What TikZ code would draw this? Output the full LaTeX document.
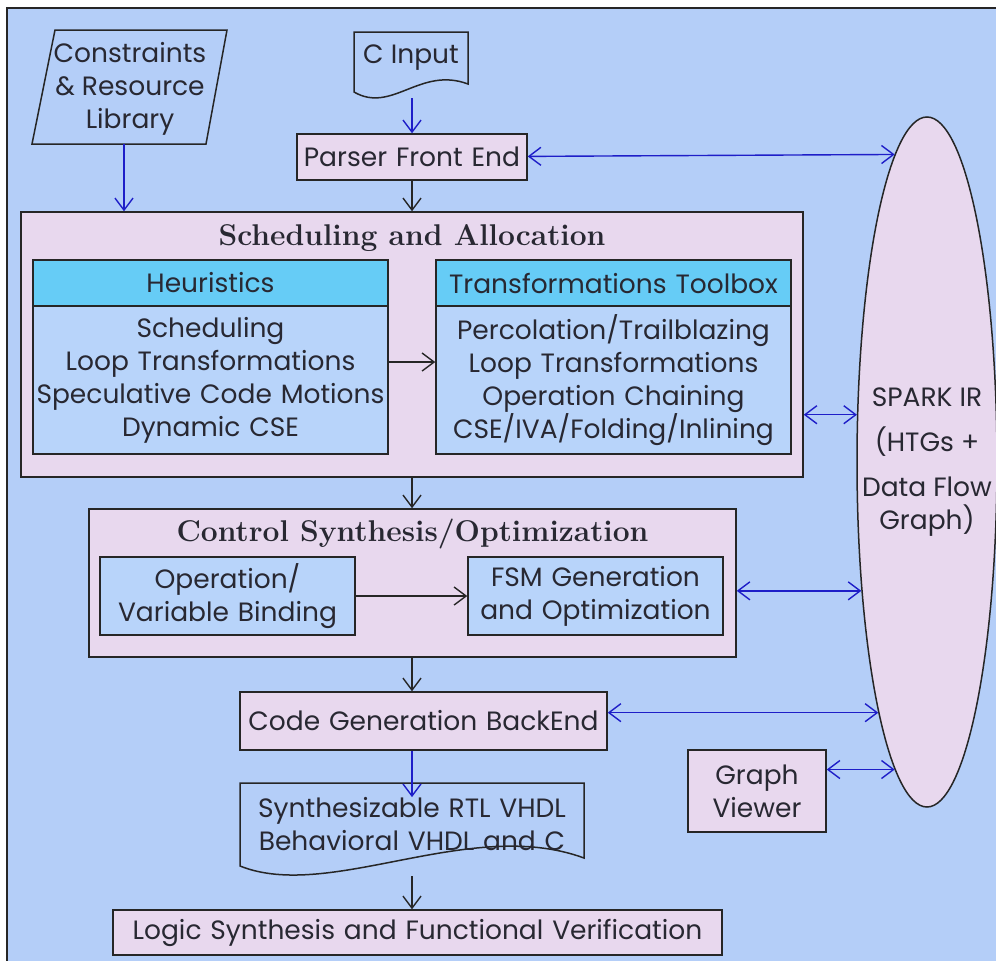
\documentclass[tikz,border=0pt]{standalone}
\usepackage{fontspec}
\newfontfamily\gothic{Poppins}
\usetikzlibrary{arrows.meta,shapes.geometric}
\definecolor{bgc}{RGB}{180,206,248}
\definecolor{pinkc}{RGB}{232,216,238}
\definecolor{headc}{RGB}{102,204,246}
\definecolor{bodyc}{RGB}{184,212,250}
\definecolor{bluec}{RGB}{30,30,200}
\definecolor{txtc}{RGB}{40,40,50}
\tikzset{
  sansfont/.style={font=\gothic\fontsize{26.5}{33}\selectfont, text=txtc},
  titlefont/.style={font=\rmfamily\bfseries\fontsize{30}{33}\selectfont, text=txtc},
  pinkbox/.style={draw=black!85, line width=1.5pt, fill=pinkc, sansfont, align=center, inner sep=0pt},
  headbox/.style={draw=black!85, line width=1.5pt, fill=headc, sansfont, align=center, inner sep=0pt},
  bodybox/.style={draw=black!85, line width=1.5pt, fill=bodyc, sansfont, align=center, inner sep=0pt},
  plaintext/.style={sansfont, align=center, inner sep=0pt},
  outline/.style={draw=black!85, line width=1.5pt},
  barrow/.style={draw=bluec, line width=1.4pt, -{Straight Barb[length=12pt,width=18pt]}},
  bbarrow/.style={draw=bluec, line width=1.4pt, {Straight Barb[length=12pt,width=18pt]}-{Straight Barb[length=12pt,width=18pt]}},
  karrow/.style={draw=black!85, line width=1.4pt, -{Straight Barb[length=12pt,width=18pt]}}
}
\begin{document}
\begin{tikzpicture}[x=1pt,y=-1pt]
\useasboundingbox (0,0) rectangle (996,961);
\fill[white] (0,0) rectangle (996,961);
\path[fill=bgc, outline] (7,8) rectangle (1010,975);

% Constraints parallelogram
\path[outline] (55,30) -- (227,30) -- (206,144) -- (32,144) -- cycle;
\node[plaintext] (cons) at (130,89) {Constraints\\\& Resource\\Library};
\coordinate (consbot) at (124,144);

% C Input document
\path[outline] (354,32) -- (468,32) -- (468,84) .. controls (420,66) and (392,114) .. (354,92) -- cycle;
\node[plaintext] (cin) at (411,58) {C Input};
\coordinate (cinbot) at (412,98);

% Parser
\node[pinkbox, text width=230pt, minimum height=46pt] (parser) at (412,157) {Parser Front End};

% SPARK IR ellipse
\node[ellipse, outline, fill=pinkc, minimum width=140pt, minimum height=690pt, inner sep=0pt,
      label={[plaintext]center:{SPARK IR\\[12pt](HTGs +\\[12pt]Data Flow\\Graph)}}] (spark) at (927,462) {};

% Scheduling and Allocation
\node[pinkbox, text width=782pt, minimum height=265pt] (sched) at (412,344.5) {};
\node[titlefont, inner sep=0pt] (schedt) at (412,238) {Scheduling and Allocation};
\node[headbox, text width=355pt, minimum height=46pt] (heurh) at (210.5,283) {Heuristics};
\node[bodybox, text width=355pt, minimum height=148pt] (heurb) at (210.5,380) {Scheduling\\Loop Transformations\\Speculative Code Motions\\Dynamic CSE};
\node[headbox, text width=355pt, minimum height=46pt] (toolh) at (613.5,283) {Transformations Toolbox};
\node[bodybox, text width=355pt, minimum height=148pt] (toolb) at (613.5,380) {Percolation/Trailblazing\\Loop Transformations\\Operation Chaining\\CSE/IVA/Folding/Inlining};

% Control Synthesis
\node[pinkbox, text width=647pt, minimum height=148pt] (control) at (412.5,583) {};
\node[titlefont, inner sep=0pt] (controlt) at (412.5,534) {Control Synthesis/Optimization};
\node[bodybox, text width=255pt, minimum height=78pt] (opvar) at (227.5,596) {Operation/\\Variable Binding};
\node[bodybox, text width=255pt, minimum height=78pt] (fsm) at (595.5,596) {FSM Generation\\and Optimization};

% Code generation
\node[pinkbox, text width=367pt, minimum height=58pt] (codegen) at (423.5,721) {Code Generation BackEnd};
\node[pinkbox, text width=138pt, minimum height=82pt] (graphv) at (757,791) {Graph\\Viewer};

% Synthesizable document
\path[outline] (240,783) -- (584,783) -- (584,858) .. controls (470,816) and (330,902) .. (240,866) -- cycle;
\node[plaintext, text width=344pt] (synth) at (412,824) {Synthesizable RTL VHDL\\Behavioral VHDL and C};
\coordinate (synthbot) at (412,876);

% Logic synthesis
\node[pinkbox, text width=609pt, minimum height=45pt] (logic) at (417.5,932.5) {Logic Synthesis and Functional Verification};

% Connectors
\draw[barrow] (consbot) -- (consbot |- sched.north);
\draw[barrow] (cinbot) -- (cinbot |- parser.north);
\draw[karrow] (parser.south) -- (parser.south |- sched.north);
\draw[bbarrow] (parser) -- (spark.96.17);
\draw[karrow] ([yshift=18pt]heurb.east) -- ([yshift=18pt]toolb.west);
\draw[bbarrow] (spark.146.5 -| sched.east) -- (spark.146.5);
\draw[karrow] (sched.south) -- (sched.south |- control.north);
\draw[karrow] (opvar) -- (fsm);
\draw[bbarrow] (spark.243.1 -| control.east) -- (spark.243.1);
\draw[karrow] (control.south -| sched.south) -- (sched.south |- codegen.north);
\draw[bbarrow] (spark.259.4 -| codegen.east) -- (spark.259.4);
\draw[bbarrow] (spark.264.4 -| graphv.east) -- (spark.264.4);
\draw[barrow] (sched.south |- codegen.south) -- (sched.south |- synth.north);
\draw[karrow] (synthbot) -- (synthbot |- logic.north);
\end{tikzpicture}
\end{document}
